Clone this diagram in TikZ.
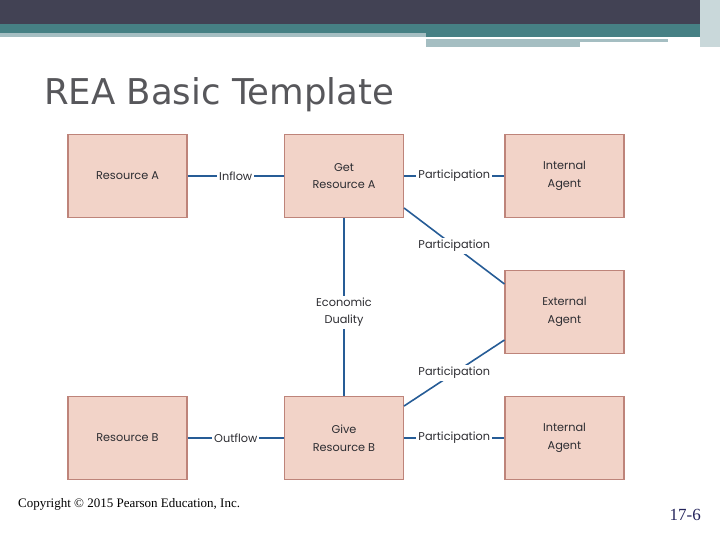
\documentclass[tikz,border=0pt]{standalone}
\usepackage{fontspec}
\setmainfont{Liberation Serif}
\newfontfamily\boxfont{Poppins}
\newfontfamily\titlefont{DejaVu Sans}
\begin{document}
\begin{tikzpicture}[x=1pt,y=-1pt,
    reabox/.style={shape=rectangle,draw=rea_border,line width=1.1pt,fill=rea_fill,
      minimum width=119pt,minimum height=83pt,align=center,text=rea_text,
      font=\boxfont\fontsize{11.3}{17.5}\selectfont},
    relline/.style={draw=rea_line,line width=1.6pt},
    rellabel/.style={fill=white,inner sep=2pt,text=rea_text,align=center,
      font=\boxfont\fontsize{11.3}{17.5}\selectfont}]
    \definecolor{rea_fill}{RGB}{242,211,200}
    \definecolor{rea_border}{RGB}{190,132,122}
    \definecolor{rea_line}{RGB}{38,92,150}
    \definecolor{rea_text}{RGB}{45,45,50}
    \definecolor{hdr_dark}{RGB}{66,66,84}
    \definecolor{hdr_teal}{RGB}{70,128,132}
    \definecolor{hdr_light}{RGB}{165,190,194}
    \useasboundingbox (0,0) rectangle (720,540);
    % header bands
    \fill[hdr_dark] (0,0) rectangle (720,24);
    \fill[hdr_teal] (0,24) rectangle (720,33);
    \fill[hdr_light] (0,33) rectangle (426,37);
    \fill[hdr_teal] (426,33) rectangle (700,37);
    \fill[hdr_light] (426,39) rectangle (668,42);
    \fill[hdr_light] (426,42) rectangle (580,47);
    \fill[hdr_light!60] (700,0) rectangle (720,47);
    \node[anchor=base west,text=rea_text!80,font=\titlefont\fontsize{35.5}{40}\selectfont,inner sep=0pt]
      (title) at (44,105) {REA Basic Template};
    % boxes
    \node[reabox] (resA)   at (127.5,176) {Resource A};
    \node[reabox] (getA)   at (344,176)   {Get\\Resource A};
    \node[reabox] (intA)   at (564.5,176) {Internal\\Agent};
    \node[reabox] (extA)   at (564.5,312) {External\\Agent};
    \node[reabox] (resB)   at (127.5,438) {Resource B};
    \node[reabox] (giveB)  at (344,438)   {Give\\Resource B};
    \node[reabox] (intB)   at (564.5,438) {Internal\\Agent};
    % relations
    \draw[relline] (resA) -- node[rellabel] (inflow) {Inflow} (getA);
    \draw[relline] (getA) -- node[rellabel] (partA) {Participation} (intA);
    \draw[relline] ([yshift=-32pt]getA.east) -- node[rellabel] (partExtA) {Participation} ([yshift=28pt]extA.west);
    \draw[relline] (getA) -- node[rellabel,pos=0.53] (duality) {Economic\\Duality} (giveB);
    \draw[relline] ([yshift=-28pt]extA.west) -- node[rellabel] (partExtB) {Participation} ([yshift=32pt]giveB.east);
    \draw[relline] (resB) -- node[rellabel] (outflow) {Outflow} (giveB);
    \draw[relline] (giveB) -- node[rellabel] (partB) {Participation} (intB);
    % footer
    \node[anchor=base west,inner sep=0pt,text=black,font=\fontsize{13}{15}\selectfont]
      (copyright) at (18,507) {Copyright © 2015 Pearson Education, Inc.};
    \node[anchor=base east,inner sep=0pt,text=rea_text!80!blue,font=\fontsize{17}{20}\selectfont]
      (slideno) at (701,520) {17-6};
\end{tikzpicture}
\end{document}
